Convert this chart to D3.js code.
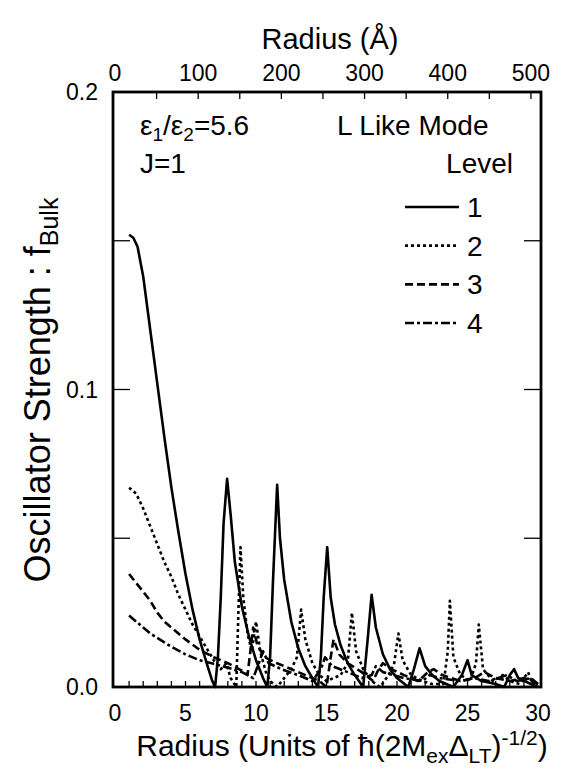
<!DOCTYPE html>
<html>
<head>
<meta charset="utf-8">
<script src="https://cdn.jsdelivr.net/npm/d3@7"></script>
<style>
  body { margin: 0; background: #fff; }
  svg { display: block; font-family: "Liberation Sans", Arial, sans-serif; }
</style>
</head>
<body>
<svg id="chart" width="568" height="779"></svg>
<script>
// level 1..4 oscillator strength vs radius (units of hbar(2M Δ)^-1/2)
const level1 = [
  [1.0,0.152],[1.3,0.151],[1.6,0.148],[2.0,0.138],[2.5,0.120],[3.0,0.102],[3.5,0.084],[4.0,0.067],
  [4.5,0.052],[5.0,0.038],[5.5,0.026],[6.0,0.016],[6.5,0.008],[6.9,0.002],[7.1,0.0],[7.3,0.010],
  [7.5,0.030],[7.7,0.055],[7.95,0.070],[8.2,0.058],[8.5,0.042],[9.0,0.027],[9.5,0.017],[10.0,0.009],
  [10.5,0.003],[10.8,0.0],[11.0,0.010],[11.2,0.035],[11.5,0.068],[11.7,0.050],[12.0,0.036],[12.5,0.022],
  [13.0,0.013],[13.5,0.007],[14.0,0.003],[14.4,0.0],[14.6,0.010],[14.8,0.030],[15.05,0.047],[15.3,0.030],
  [15.6,0.021],[16.0,0.014],[16.5,0.008],[17.0,0.004],[17.6,0.0],[17.9,0.015],[18.2,0.031],[18.5,0.020],
  [19.0,0.011],[19.5,0.006],[20.0,0.003],[20.8,0.0],[21.2,0.006],[21.6,0.013],[22.0,0.007],[22.5,0.004],
  [23.0,0.002],[24.0,0.0],[24.6,0.004],[25.0,0.009],[25.3,0.004],[26.0,0.002],[27.0,0.001],[27.6,0.0],
  [28.0,0.004],[28.3,0.006],[28.6,0.003],[29.5,0.001],[30.0,0.0]
];
const level2 = [
  [1.0,0.067],[1.5,0.065],[2.0,0.060],[2.5,0.054],[3.0,0.048],[3.5,0.042],[4.0,0.037],[4.5,0.031],
  [5.0,0.026],[5.5,0.021],[6.0,0.017],[6.5,0.013],[7.0,0.009],[7.5,0.006],[7.9,0.008],[8.2,0.003],
  [8.6,0.0],[8.75,0.025],[8.9,0.047],[9.1,0.030],[9.4,0.018],[9.7,0.012],[10.0,0.022],[10.3,0.012],
  [10.7,0.005],[11.0,0.002],[11.5,0.0],[12.0,0.003],[12.5,0.006],[12.9,0.010],[13.2,0.026],[13.5,0.016],
  [14.0,0.008],[14.5,0.004],[15.0,0.002],[15.5,0.003],[16.0,0.004],[16.5,0.008],[16.8,0.025],[17.1,0.012],
  [17.6,0.006],[18.2,0.002],[18.8,0.0],[19.4,0.004],[19.8,0.008],[20.1,0.018],[20.4,0.009],[21.0,0.004],
  [21.8,0.002],[22.5,0.001],[23.3,0.001],[23.6,0.012],[23.75,0.029],[24.0,0.010],[24.5,0.004],[25.2,0.002],
  [25.6,0.008],[25.8,0.021],[26.1,0.006],[26.8,0.002],[27.5,0.004],[28.0,0.002],[28.7,0.001],[29.3,0.005],
  [29.6,0.001],[30.0,0.0]
];
const level3 = [
  [1.0,0.038],[1.5,0.035],[2.0,0.032],[2.5,0.029],[3.0,0.025],[3.5,0.022],[4.0,0.020],[5.0,0.016],
  [6.0,0.0125],[7.0,0.010],[8.0,0.008],[9.0,0.0055],[9.4,0.004],[9.6,0.012],[9.8,0.020],[10.1,0.014],
  [10.6,0.010],[11.5,0.008],[12.5,0.006],[13.5,0.004],[14.5,0.002],[15.0,0.0],[15.3,0.010],[15.5,0.016],
  [15.9,0.011],[16.5,0.008],[17.5,0.005],[18.3,0.002],[18.7,0.006],[19.0,0.008],[19.6,0.006],[20.5,0.004],
  [21.5,0.002],[22.2,0.005],[22.6,0.006],[23.2,0.004],[24.5,0.002],[25.5,0.003],[26.2,0.005],[27.0,0.003],
  [28.0,0.002],[29.0,0.003],[29.5,0.002],[30.0,0.001]
];
const level4 = [
  [1.0,0.024],[1.5,0.022],[2.0,0.020],[2.5,0.018],[3.0,0.0165],[3.5,0.015],[4.0,0.0135],[5.0,0.011],
  [6.0,0.009],[7.0,0.0078],[8.0,0.0065],[9.0,0.005],[9.8,0.003],[10.2,0.008],[10.5,0.012],[10.9,0.008],
  [11.8,0.006],[13.0,0.004],[14.0,0.002],[14.6,0.006],[14.9,0.010],[15.4,0.007],[16.5,0.005],[17.5,0.003],
  [18.2,0.004],[18.5,0.007],[19.0,0.005],[20.5,0.003],[21.8,0.002],[22.3,0.004],[23.0,0.003],[24.5,0.002],
  [25.5,0.003],[26.5,0.002],[27.8,0.004],[28.5,0.002],[29.5,0.003],[30.0,0.001]
];

const levels = ["1", "2", "3", "4"];
const dashes = [null, "3,3", "8,4", "9,3,3,3"];
const seriesData = [level1, level2, level3, level4];

const xTicks = [0, 5, 10, 15, 20, 25, 30];
const yTicks = [0.0, 0.1, 0.2];
const yMinor = [0.05, 0.1, 0.15];
const topTicks = [0, 100, 200, 300, 400, 500];
const angstromPerUnit = 16.95;

const frame = { left: 113, right: 541, top: 92, bottom: 687 };

const svg = d3.select("#chart");

const x = d3.scaleLinear().domain([0, 30]).range([115, 538]);
const y = d3.scaleLinear().domain([0, 0.2]).range([frame.bottom, frame.top]);
const xTop = d3.scaleLinear()
  .domain([0, 500])
  .range([x(0), x(500 / angstromPerUnit)]);

// frame
svg.append("rect")
  .attr("x", frame.left).attr("y", frame.top)
  .attr("width", frame.right - frame.left)
  .attr("height", frame.bottom - frame.top)
  .attr("fill", "none").attr("stroke", "#000").attr("stroke-width", 2.8);

// bottom ticks, every unit, inward
svg.append("g").selectAll("line")
  .data(d3.range(1, 30))
  .join("line")
  .attr("x1", d => x(d)).attr("x2", d => x(d))
  .attr("y1", frame.bottom).attr("y2", frame.bottom - 6)
  .attr("stroke", "#000").attr("stroke-width", 1.3);

svg.append("g").selectAll("text")
  .data(xTicks)
  .join("text")
  .attr("x", d => x(d)).attr("y", 721)
  .attr("text-anchor", "middle")
  .style("font-size", "23px")
  .text(d => d);

// top ticks (Å), every 50, inward
svg.append("g").selectAll("line")
  .data(d3.range(50, 501, 50))
  .join("line")
  .attr("x1", d => xTop(d)).attr("x2", d => xTop(d))
  .attr("y1", frame.top).attr("y2", frame.top + 7)
  .attr("stroke", "#000").attr("stroke-width", 1.3);

svg.append("g").selectAll("text")
  .data(topTicks)
  .join("text")
  .attr("x", d => xTop(d)).attr("y", 81)
  .attr("text-anchor", "middle")
  .style("font-size", "23px")
  .text(d => d);

// y ticks, both sides
[frame.left, frame.right].forEach((x0, i) => {
  svg.append("g").selectAll("line")
    .data(yMinor)
    .join("line")
    .attr("x1", x0).attr("x2", i ? x0 - 17 : x0 + 17)
    .attr("y1", d => y(d)).attr("y2", d => y(d))
    .attr("stroke", "#000").attr("stroke-width", 1.3);
});

svg.append("g").selectAll("text")
  .data(yTicks)
  .join("text")
  .attr("x", 98).attr("y", d => y(d))
  .attr("dy", "0.36em")
  .attr("text-anchor", "end")
  .style("font-size", "23px")
  .text(d => d.toFixed(1));

// curves
const line = d3.line().x(d => x(d[0])).y(d => y(d[1]));
const curves = svg.append("g");
seriesData.forEach((data, i) => {
  curves.append("path")
    .datum(data)
    .attr("d", line)
    .attr("fill", "none")
    .attr("stroke", "#000")
    .attr("stroke-width", 2.6)
    .attr("stroke-linejoin", "round")
    .attr("stroke-dasharray", dashes[i]);
});

// titles
svg.append("text")
  .attr("x", 330).attr("y", 49)
  .attr("text-anchor", "middle")
  .style("font-size", "29px")
  .text("Radius (Å)");

const bt = svg.append("text")
  .attr("x", 342).attr("y", 756)
  .attr("text-anchor", "middle")
  .style("font-size", "30px");
bt.append("tspan").text("Radius (Units of ħ(2M");
bt.append("tspan").attr("dy", 7).style("font-size", "21px").text("ex");
bt.append("tspan").attr("dy", -7).text("Δ");
bt.append("tspan").attr("dy", 7).style("font-size", "21px").text("LT");
bt.append("tspan").attr("dy", -7).text(")");
bt.append("tspan").attr("dy", -11).style("font-size", "21px").text("-1/2");
bt.append("tspan").attr("dy", 11).text(")");

const lt = svg.append("text")
  .attr("transform", "translate(50,390) rotate(-90)")
  .attr("text-anchor", "middle")
  .style("font-size", "36px");
lt.append("tspan").text("Oscillator Strength : f");
lt.append("tspan").attr("dy", 8).style("font-size", "25px").text("Bulk");

// annotations
const ann = svg.append("text")
  .attr("x", 140).attr("y", 135)
  .style("font-size", "28px");
ann.append("tspan").text("ε");
ann.append("tspan").attr("dy", 6).style("font-size", "19px").text("1");
ann.append("tspan").attr("dy", -6).text("/ε");
ann.append("tspan").attr("dy", 6).style("font-size", "19px").text("2");
ann.append("tspan").attr("dy", -6).text("=5.6");

svg.append("text")
  .attr("x", 140).attr("y", 173)
  .style("font-size", "28px")
  .text("J=1");

svg.append("text")
  .attr("x", 337).attr("y", 135)
  .style("font-size", "28px")
  .text("L Like Mode");

svg.append("text")
  .attr("x", 513).attr("y", 173)
  .attr("text-anchor", "end")
  .style("font-size", "28px")
  .text("Level");

// legend
const legendY = d3.scalePoint().domain(levels).range([207, 323]);
const leg = svg.append("g").selectAll("g")
  .data(levels)
  .join("g")
  .attr("transform", d => `translate(0,${legendY(d)})`);
leg.append("line")
  .attr("x1", 405).attr("x2", 459)
  .attr("stroke", "#000").attr("stroke-width", 2.6)
  .attr("stroke-dasharray", (d, i) => dashes[i]);
leg.append("text")
  .attr("x", 467).attr("y", 0).attr("dy", "0.36em")
  .style("font-size", "28px")
  .text(d => d);
</script>
</body>
</html>
